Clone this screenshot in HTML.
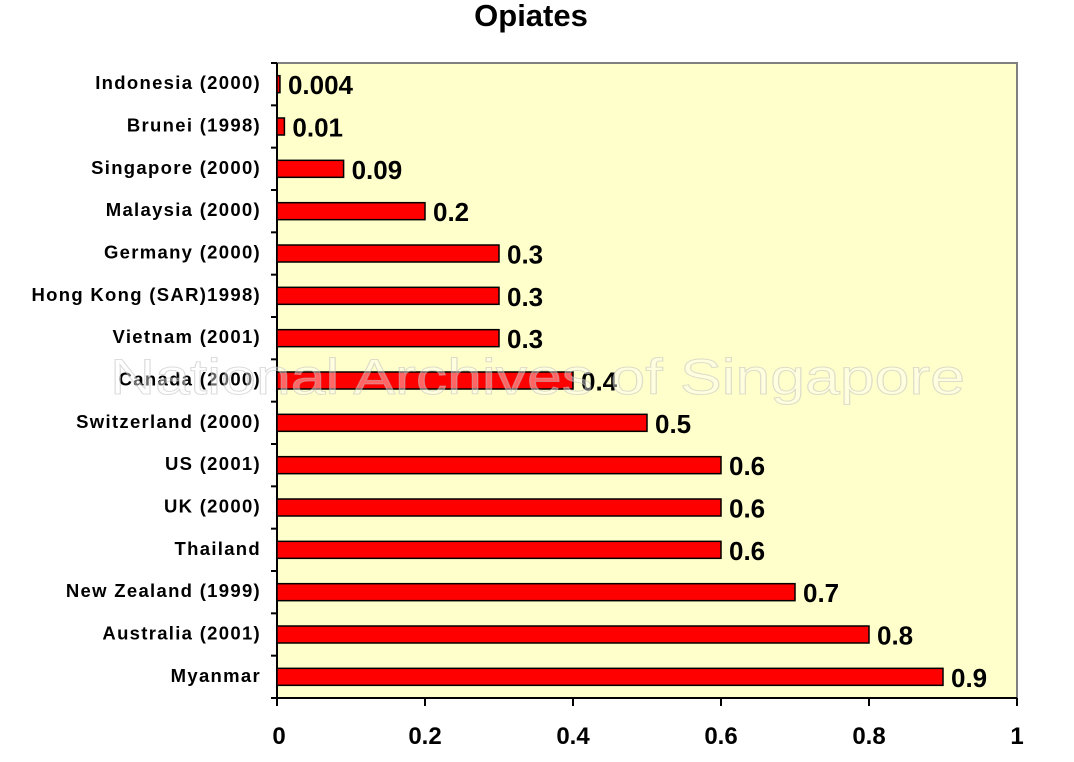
<!DOCTYPE html>
<html><head><style>body{margin:0;background:#fff}svg{display:block}</style></head><body>
<svg width="1074" height="762" xmlns="http://www.w3.org/2000/svg" font-family="Liberation Sans, Arial, sans-serif" font-weight="bold">
<text x="531" y="26" font-size="31" text-anchor="middle">Opiates</text>
<rect x="277" y="63" width="740" height="635" fill="#ffffcc" stroke="#808080" stroke-width="2"/>
<line x1="277" y1="63" x2="277" y2="698" stroke="#000" stroke-width="2"/>
<line x1="277" y1="698" x2="1017" y2="698" stroke="#000" stroke-width="2"/>
<g stroke="#000" stroke-width="2">
<line x1="277" y1="698" x2="277" y2="706"/><line x1="425" y1="698" x2="425" y2="706"/><line x1="573" y1="698" x2="573" y2="706"/><line x1="721" y1="698" x2="721" y2="706"/><line x1="869" y1="698" x2="869" y2="706"/><line x1="1017" y1="698" x2="1017" y2="706"/>
</g>
<g font-size="24" text-anchor="middle">
<text x="279" y="744">0</text><text x="425" y="744">0.2</text><text x="573" y="744">0.4</text><text x="721" y="744">0.6</text><text x="869" y="744">0.8</text><text x="1017" y="744">1</text>
</g>
<g id="bars" fill="#ff0000" stroke="#000" stroke-width="1.5"></g>
<g id="labs" font-size="18.5" text-anchor="end" letter-spacing="1.3"></g>
<g id="vals" font-size="26"></g>
<g id="ticks" stroke="#000" stroke-width="2"></g>
<text x="110" y="394" font-size="50" font-weight="normal" fill="#fff" fill-opacity="0.4" stroke="#bbb" stroke-opacity="0.5" textLength="855" lengthAdjust="spacingAndGlyphs">National Archives of Singapore</text>
</svg>
<script>
var d=[["Indonesia (2000)",0.004,"0.004"],["Brunei (1998)",0.01,"0.01"],["Singapore (2000)",0.09,"0.09"],["Malaysia (2000)",0.2,"0.2"],["Germany (2000)",0.3,"0.3"],["Hong Kong (SAR)1998)",0.3,"0.3"],["Vietnam (2001)",0.3,"0.3"],["Canada (2000)",0.4,"0.4"],["Switzerland (2000)",0.5,"0.5"],["US (2001)",0.6,"0.6"],["UK (2000)",0.6,"0.6"],["Thailand",0.6,"0.6"],["New Zealand (1999)",0.7,"0.7"],["Australia (2001)",0.8,"0.8"],["Myanmar",0.9,"0.9"]];
var ns="http://www.w3.org/2000/svg";
function el(p,t,a,tx){var e=document.createElementNS(ns,t);for(var k in a)e.setAttribute(k,a[k]);if(tx)e.textContent=tx;document.getElementById(p).appendChild(e);}
var step=(698-63)/15;
for(var i=0;i<=15;i++){var y=63+i*step;el("ticks","line",{x1:271,x2:277,y1:y,y2:y});}
d.forEach(function(r,i){var c=63+(i+0.5)*step;var w=r[1]*740;
el("bars","rect",{x:277,y:c-8.5,width:w,height:17});
el("labs","text",{x:261,y:c+5},r[0]);
el("vals","text",{x:277+w+8,y:c+10},r[2]);});
</script>
</body></html>
